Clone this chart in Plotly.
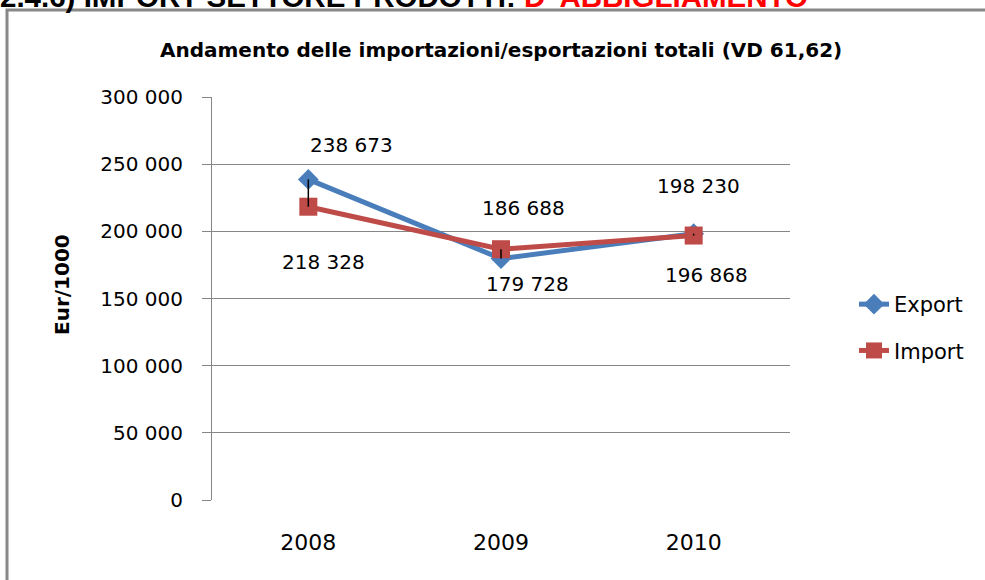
import plotly.graph_objects as go

years = ["2008", "2009", "2010"]
export_vals = [238673, 179728, 198230]
import_vals = [218328, 186688, 196868]
y_ticks = [0, 50000, 100000, 150000, 200000, 250000, 300000]

# label offsets in px (dx, dy) as Excel placed them
export_shift = [(43, 34), (26, -25), (5, 48)]
import_shift = [(15, -55), (22, 41), (13, -39)]

blue = "#4A7EBB"
red = "#BE4B48"
font = "DejaVu Sans"

W, H = 985, 580
L, R, T, B = 212, 195, 97, 80
pw, ph = W - L - R, H - T - B


def px_x(p):
    return (p - L) / pw


def px_y(p):
    return (H - B - p) / ph


def fmt(v):
    return f"{v:,}".replace(",", " ")


fig = go.Figure()
fig.add_trace(go.Scatter(x=years, y=export_vals, name="Export", mode="lines+markers",
                         line=dict(color=blue, width=5),
                         marker=dict(symbol="diamond", size=16, color=blue),
                         legendgroup="e"))
fig.add_trace(go.Scatter(x=years, y=import_vals, name="Import", mode="lines+markers",
                         line=dict(color=red, width=5),
                         marker=dict(symbol="square", size=18, color=red),
                         legendgroup="i"))

# high-low lines between the two series
hx, hy = [], []
for yr, e, i in zip(years, export_vals, import_vals):
    hx += [yr, yr, None]
    hy += [e, i, None]
fig.add_trace(go.Scatter(x=hx, y=hy, mode="lines", line=dict(color="black", width=1.5),
                         showlegend=False, hoverinfo="skip"))

ann = []
for k, (v, (dx, dy)) in enumerate(zip(export_vals, export_shift)):
    ann.append(dict(x=k, y=v, text=fmt(v), showarrow=False, xshift=dx, yshift=dy,
                    xanchor="center", yanchor="middle",
                    font=dict(family=font, size=20, color="black")))
for k, (v, (dx, dy)) in enumerate(zip(import_vals, import_shift)):
    ann.append(dict(x=k, y=v, text=fmt(v), showarrow=False, xshift=dx, yshift=dy,
                    xanchor="center", yanchor="middle",
                    font=dict(family=font, size=20, color="black")))

# chart title
ann.append(dict(xref="paper", yref="paper", x=px_x(501), y=px_y(50),
                xanchor="center", yanchor="middle",
                text="<b>Andamento delle importazioni/esportazioni totali (VD 61,62)</b>",
                showarrow=False, font=dict(family=font, size=20, color="black")))
# y title
ann.append(dict(xref="paper", yref="paper", x=px_x(62), y=px_y(285),
                xanchor="center", yanchor="middle",
                text="<b>Eur/1000</b>", textangle=-90, showarrow=False,
                font=dict(family=font, size=20, color="black")))
# cropped page header
ann.append(dict(xref="paper", yref="paper", x=px_x(-2), y=px_y(15), xanchor="left", yanchor="bottom",
                text="<b>2.4.6) IMPORT SETTORE PRODOTTI: <span style='color:#FF0000'>D' ABBIGLIAMENTO</span></b>",
                showarrow=False, font=dict(family="Liberation Sans", size=29.5, color="black")))

fig.update_layout(
    width=W, height=H,
    margin=dict(l=L, r=R, t=T, b=B),
    paper_bgcolor="white", plot_bgcolor="white",
    separators=", ",
    annotations=ann,
    shapes=[dict(type="rect", xref="paper", yref="paper",
                 x0=px_x(7), y0=px_y(600), x1=px_x(1000), y1=px_y(10),
                 line=dict(color="#888888", width=3), layer="below")],
    legend=dict(x=px_x(854), y=px_y(284), xanchor="left", yanchor="top",
                font=dict(family=font, size=21, color="black"),
                tracegroupgap=16, bgcolor="rgba(0,0,0,0)"),
    showlegend=True,
)
fig.update_xaxes(type="category", showgrid=False, showline=False, ticks="",
                 ticklabelstandoff=27, tickfont=dict(family=font, size=22, color="black"),
                 range=[-0.5, 2.5])
fig.update_yaxes(range=[0, 300000], tickvals=y_ticks, tickformat=",",
                 showgrid=True, gridcolor="#868686", gridwidth=1,
                 showline=True, linecolor="#868686", linewidth=1,
                 ticks="outside", ticklen=9, tickcolor="#868686",
                 ticklabelstandoff=15, zeroline=False,
                 tickfont=dict(family=font, size=20, color="black"))

fig.write_html("out.html", config={"displayModeBar": False},
               post_script="document.body.style.margin='0px';")
